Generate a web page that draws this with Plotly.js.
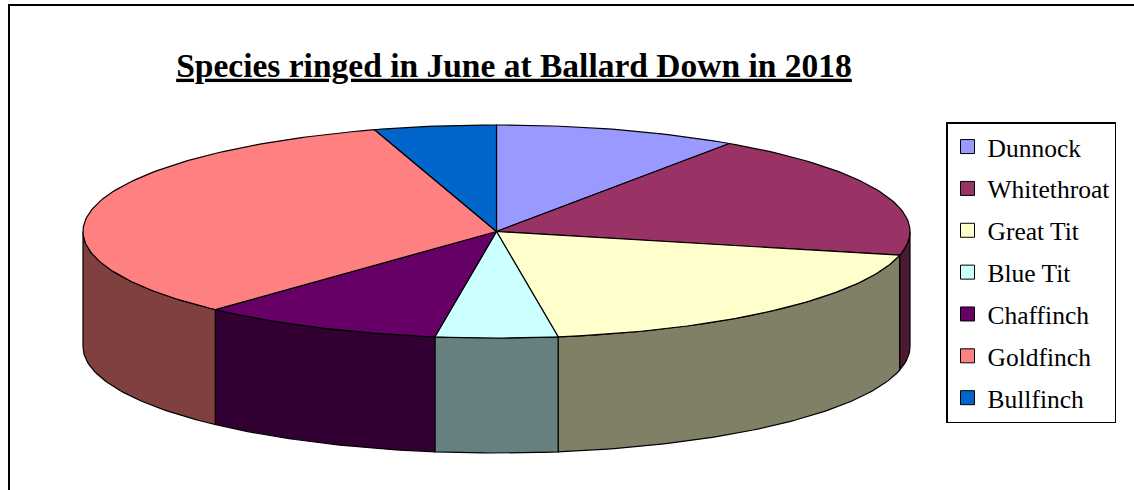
<!DOCTYPE html>
<html>
<head>
<meta charset="utf-8">
<script src="https://cdn.plot.ly/plotly-3.0.1.min.js"></script>
<style>html,body{margin:0;padding:0;background:#fff;}#chart{width:1134px;height:490px;}</style>
</head>
<body>
<div id="chart"></div>
<script>
// ---- data ----
const species = ['Dunnock', 'Whitethroat', 'Great Tit', 'Blue Tit', 'Chaffinch', 'Goldfinch', 'Bullfinch'];
const counts = [2, 4, 4, 1, 2, 7, 1];
const topColors = ['#9999FF', '#993366', '#FFFFCC', '#CCFFFF', '#660066', '#FF8080', '#0066CC'];
const sideColors = ['#4D4D80', '#4D1A33', '#808066', '#668080', '#330033', '#804040', '#003366'];
const chartTitle = 'Species ringed in June at Ballard Down in 2018';

// ---- geometry (pixel-like axis units) ----
const W = 1134, H = 490;
const CX = 496.5, CY = 231.5, RX = 413.5, RY = 106.5, DEPTH = 115;
const SERIF = 'Liberation Serif';

const total = counts.reduce((a, b) => a + b, 0);
const starts = [], ends = [];
let acc = 0;
counts.forEach(c => { starts.push(acc / total * 360); acc += c; ends.push(acc / total * 360); });

function pt(deg, dy) {
  const r = deg * Math.PI / 180;
  return [CX + RX * Math.sin(r), CY - RY * Math.cos(r) + dy];
}
function arc(a0, a1, dy) {
  const n = Math.max(2, Math.ceil(Math.abs(a1 - a0)));
  const out = [];
  for (let i = 0; i <= n; i++) out.push(pt(a0 + (a1 - a0) * i / n, dy));
  return out;
}

const traces = [];
// side walls (front half only)
species.forEach((s, i) => {
  const s0 = Math.max(starts[i], 90), s1 = Math.min(ends[i], 270);
  if (s1 <= s0) return;
  const pts = arc(s0, s1, 0).concat(arc(s1, s0, DEPTH));
  pts.push(pts[0]);
  traces.push({
    type: 'scatter', mode: 'lines', fill: 'toself',
    x: pts.map(p => p[0]), y: pts.map(p => p[1]),
    fillcolor: sideColors[i], line: { color: '#000', width: 1.2 },
    showlegend: false, hoverinfo: 'skip'
  });
});
// top faces
species.forEach((s, i) => {
  const pts = [[CX, CY]].concat(arc(starts[i], ends[i], 0));
  pts.push([CX, CY]);
  traces.push({
    type: 'scatter', mode: 'lines', fill: 'toself',
    x: pts.map(p => p[0]), y: pts.map(p => p[1]),
    fillcolor: topColors[i], line: { color: '#000', width: 1.2 },
    showlegend: false, hoverinfo: 'skip'
  });
});
// legend entries
species.forEach((s, i) => {
  traces.push({
    type: 'scatter', mode: 'markers', x: [null], y: [null], name: s, legendgroup: s,
    marker: { symbol: 'square', size: 14, color: topColors[i], line: { color: '#000', width: 1 } },
    hoverinfo: 'skip'
  });
});

const layout = {
  width: W, height: H,
  font: { family: SERIF, color: '#000' },
  margin: { l: 0, r: 0, t: 0, b: 0, pad: 0 },
  paper_bgcolor: '#fff', plot_bgcolor: '#fff',
  xaxis: { range: [0, W], visible: false, fixedrange: true },
  yaxis: { range: [H, 0], visible: false, fixedrange: true },
  title: {
    text: '<b><u>' + chartTitle + '</u></b>',
    font: { family: SERIF, size: 33.5, color: '#000' },
    x: 514 / W, xanchor: 'center', xref: 'container',
    y: 1 - 65 / H, yanchor: 'middle', yref: 'container'
  },
  showlegend: true,
  legend: {
    x: 946 / W, y: 1 - 122 / H, xanchor: 'left', yanchor: 'top',
    bgcolor: '#fff', bordercolor: '#000', borderwidth: 1.5,
    font: { family: SERIF, size: 25.5, color: '#000' },
    tracegroupgap: 5.7, itemwidth: 30, traceorder: 'grouped'
  },
  shapes: [{
    type: 'rect', xref: 'paper', yref: 'paper',
    x0: 9 / W, x1: 1.01, y0: -0.02, y1: 1 - 5 / H,
    line: { color: '#000', width: 2 }, fillcolor: 'rgba(0,0,0,0)', layer: 'below'
  }]
};

Plotly.newPlot('chart', traces, layout, { staticPlot: true, displayModeBar: false });
</script>
</body>
</html>
